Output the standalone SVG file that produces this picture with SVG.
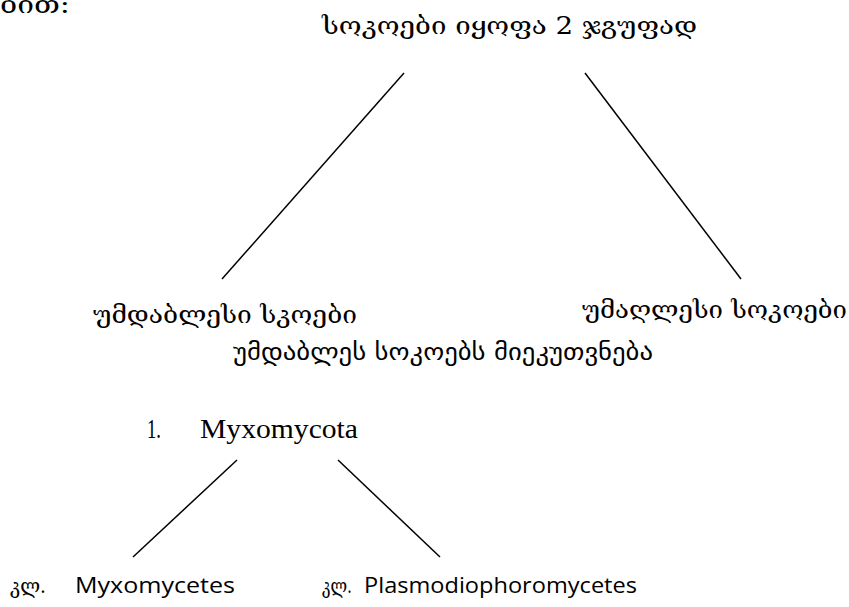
<svg xmlns="http://www.w3.org/2000/svg" width="849" height="607" viewBox="0 0 849 607">
<style>
.ge{font-family:"DejaVu Serif","Noto Sans",serif;font-size:25px;fill:#000}
.ges{font-family:"DejaVu Sans","Noto Sans",sans-serif;font-size:24px;fill:#000}
.lat{font-family:"Liberation Serif",serif;font-size:27px;fill:#000}
.cal{font-family:"Open Sans","Liberation Sans",sans-serif;font-size:22px;fill:#000}
.kl{font-family:"DejaVu Serif","Noto Sans",serif;font-size:21px;fill:#000}
.ln{stroke:#000;stroke-width:1.5;fill:none}
</style>
<rect width="849" height="607" fill="#fff"/>
<g id="fragment"><text class="ge" x="70" y="13" text-anchor="end" textLength="70" lengthAdjust="spacingAndGlyphs">ბით:</text></g>
<g id="root"><text class="ge" x="322" y="34" textLength="375" lengthAdjust="spacingAndGlyphs">სოკოები იყოფა 2 ჯგუფად</text></g>
<g id="lower"><text class="ge" x="93" y="323" textLength="264" lengthAdjust="spacingAndGlyphs">უმდაბლესი  სკოები</text></g>
<g id="higher"><text class="ge" x="582" y="318" textLength="265" lengthAdjust="spacingAndGlyphs">უმაღლესი სოკოები</text></g>
<g id="caption"><text class="ges" x="233" y="360" textLength="420" lengthAdjust="spacingAndGlyphs">უმდაბლეს სოკოებს მიეკუთვნება</text></g>
<g id="myxomycota"><text class="lat" x="147" y="438" textLength="14" lengthAdjust="spacingAndGlyphs">1.</text><text class="lat" x="200" y="438" textLength="158" lengthAdjust="spacingAndGlyphs">Myxomycota</text></g>
<g id="myxomycetes"><text class="kl" x="10" y="593" textLength="36" lengthAdjust="spacingAndGlyphs">კლ.</text><text class="cal" x="75" y="593" textLength="160" lengthAdjust="spacingAndGlyphs">Myxomycetes</text></g>
<g id="plasmodiophoromycetes"><text class="kl" x="322" y="593" textLength="30" lengthAdjust="spacingAndGlyphs">კლ.</text><text class="cal" x="364" y="593" textLength="273" lengthAdjust="spacingAndGlyphs">Plasmodiophoromycetes</text></g>
<g id="connectors">
<line class="ln" x1="404" y1="73" x2="222" y2="279"/>
<line class="ln" x1="585" y1="73" x2="741" y2="279"/>
<line class="ln" x1="237" y1="460" x2="133" y2="557"/>
<line class="ln" x1="338" y1="460" x2="440" y2="557"/>
</g>
</svg>
